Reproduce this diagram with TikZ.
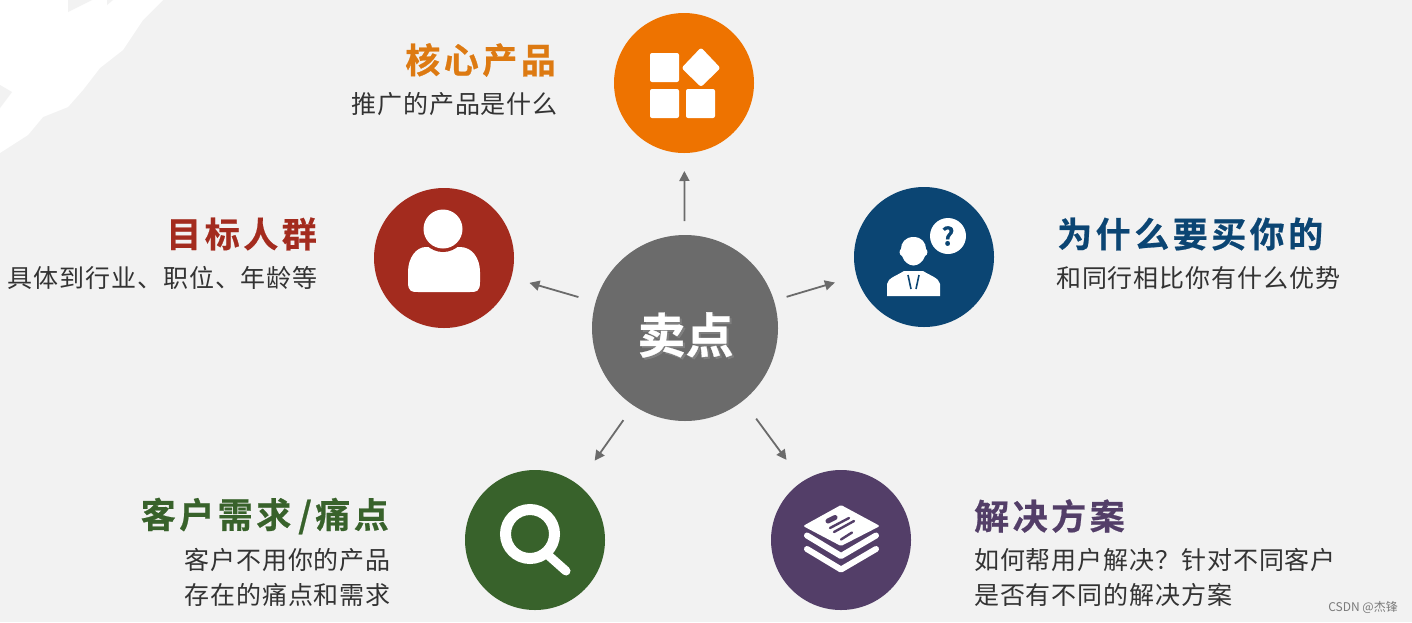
\documentclass[tikz,border=0pt]{standalone}
\usepackage{fontspec}
\setmainfont{Noto Sans CJK SC}
\newfontfamily\ttlfont[LetterSpace=10,FakeBold=0.6]{Noto Sans CJK SC Bold}
\newfontfamily\subfont[LetterSpace=3.6]{Noto Sans CJK SC}
\newfontfamily\cenfont[FakeBold=0.6]{Noto Sans CJK SC Bold}
\definecolor{bgc}{HTML}{F2F2F2}
\definecolor{org}{HTML}{EE7300}
\definecolor{orgt}{HTML}{DD7A12}
\definecolor{redc}{HTML}{A32B1E}
\definecolor{bluc}{HTML}{0B4573}
\definecolor{grnc}{HTML}{38622B}
\definecolor{purc}{HTML}{533E68}
\definecolor{gryc}{HTML}{6B6B6B}
\definecolor{subc}{HTML}{333333}
\usetikzlibrary{arrows.meta}
\tikzset{
  disc/.style={circle,fill=#1,minimum size=140pt,inner sep=0pt,outer sep=0pt},
  hub/.style={circle,fill=gryc,minimum size=186pt,inner sep=0pt,outer sep=0pt},
  lnk/.style={draw=gryc,line width=1.8pt,-{Triangle[length=10pt,width=10pt]}},
  ttl/.style={font=\ttlfont\fontsize{35}{40}\selectfont,inner sep=0pt},
  sub/.style={font=\subfont\fontsize{25}{35}\selectfont,text=subc,inner sep=0pt},
  ico/.style={fill=white,draw=none},
}
\begin{document}
\begin{tikzpicture}[x=1pt,y=-1pt]
\useasboundingbox (0,0) rectangle (1412,622);
\fill[bgc] (0,0) rectangle (1412,622);
\fill[white] (0,0) -- (163,0) -- (143,20) -- (123,50) -- (100,68) -- (83,90) -- (68,107) -- (43,117) -- (28,135) -- (0,153) -- cycle;
\fill[bgc] (68,0) -- (68,12) -- (92,0) -- cycle;
\fill[bgc] (107,0) -- (107,5) -- (113,0) -- cycle;
\fill[bgc] (0,85) -- (12,92) -- (0,108) -- cycle;
% discs
\node[hub] (c) at (685,328) {};
\node[disc=org] (top) at (684,83) {};
\node[disc=redc] (lft) at (444,258) {};
\node[disc=bluc] (rgt) at (924,257) {};
\node[disc=grnc] (bl) at (535,540) {};
\node[disc=purc] (br) at (841,540) {};
\node[font=\cenfont\fontsize{48}{50}\selectfont,text=black!45,opacity=.6] (cs) at (687.5,337) {卖点};
\node[font=\cenfont\fontsize{48}{50}\selectfont,text=white] (ct) at (685.5,335) {卖点};
% connectors
\draw[lnk,shorten <=14pt,shorten >=18pt] (c) -- (top);
\draw[lnk,shorten <=13pt,shorten >=23pt,transform canvas={yshift=1pt}] (c) -- (rgt);
\draw[lnk,shorten <=18pt,shorten >=19pt] (c) -- (lft);
\draw[lnk,shorten <=18pt,shorten >=29pt,transform canvas={xshift=2.5pt,yshift=-1.5pt}] (c) -- (bl);
\draw[lnk,shorten <=22pt,shorten >=27pt,transform canvas={xshift=3pt,yshift=2pt}] (c) -- (br);
% orange icon
\foreach \x/\y in {650/53,650/89,686/89}
  \fill[ico,rounded corners=2pt] (\x,\y) rectangle ++(29,29);
\fill[ico,rounded corners=2.5pt] (701,47.5) -- (720.5,68) -- (701,87) -- (681.5,68) -- cycle;
% red icon
\fill[ico] (408,282) .. controls (408,292) and (412,292) .. (418,292) -- (470,292) .. controls (476,292) and (480,292) .. (480,282) -- (480,272) .. controls (480,258) and (472,247) .. (460,247) -- (426,247) .. controls (416,247) and (408,258) .. (408,272) -- cycle;
\fill[redc] (443,229) circle (23);
\fill[ico] (443,229) circle (19.5);
% blue icon
\fill[ico] (948,236) circle (18);
\node[font=\cenfont\fontsize{25}{26}\selectfont,text=bluc] (qm) at (948,236) {?};
\fill[ico] (913.5,237) .. controls (922,237) and (926,243) .. (926,249) .. controls (928,250) and (928,255) .. (925,256) .. controls (923,262) and (918,265.5) .. (913.5,265.5) .. controls (909,265.5) and (904,262) .. (902,256) .. controls (899,255) and (899,250) .. (901,249) .. controls (901,243) and (905,237) .. (913.5,237) -- cycle;
\fill[ico] (887,296) -- (887,284) .. controls (888,278) and (896,276) .. (904,271) -- (923,271) .. controls (931,276) and (939,278) .. (940,284) -- (940,296) -- cycle;
\draw[bluc,line width=1.6pt] (908,275) -- (911,289);
\draw[bluc,line width=1.6pt] (919,275) -- (916,289);
% green icon
\draw[white,line width=11pt] (530,534) circle (24.5);
\draw[white,line width=9pt,line cap=round] (548,555) -- (566,571);
% purple icon
\fill[ico,rounded corners=1.5pt] (841,505) -- (880,526) -- (841,546) -- (803,526) -- cycle;
\draw[white,line width=6pt,line join=round,line cap=round] (807,535.5) -- (841,556) -- (876,535.5);
\draw[white,line width=6pt,line join=round,line cap=round] (807,549) -- (841,569.5) -- (876,549);
\draw[purc,line width=5pt,line cap=round] (828,521) -- (835,517.5);
\draw[purc,line width=2.4pt,line cap=round] (830,528) -- (849,518);
\draw[purc,line width=2.4pt,line cap=round] (834,532) -- (854,521);
\draw[purc,line width=2.4pt,line cap=round] (841,539.5) -- (852,532.5);
% texts
\node[ttl,text=orgt,anchor=east] (t1) at (556,60) {核心产品};
\node[sub,anchor=east] (s1) at (558,104) {推广的产品是什么};
\node[ttl,text=redc,anchor=east] (t2) at (317,234) {目标人群};
\node[sub,anchor=east] (s2) at (318,278) {具体到行业、职位、年龄等};
\node[ttl,text=bluc,anchor=west] (t3) at (1057,234) {为什么要买你的};
\node[sub,anchor=west] (s3) at (1056,278) {和同行相比你有什么优势};
\node[ttl,text=grnc,anchor=east] (t4) at (389,516) {客户需求\kern7pt/痛点};
\node[sub,anchor=east,align=right] (s4) at (391,577) {客户不用你的产品\\存在的痛点和需求};
\node[ttl,text=purc,anchor=west] (t5) at (974,516) {解决方案};
\node[sub,anchor=west,align=left] (s5) at (974,577) {如何帮用户解决？针对不同客户\\是否有不同的解决方案};
\node[font=\fontsize{12}{14}\selectfont,text=gryc!90,anchor=east,inner sep=0pt] (wm) at (1398,607) {CSDN @杰锋};
\end{tikzpicture}
\end{document}
